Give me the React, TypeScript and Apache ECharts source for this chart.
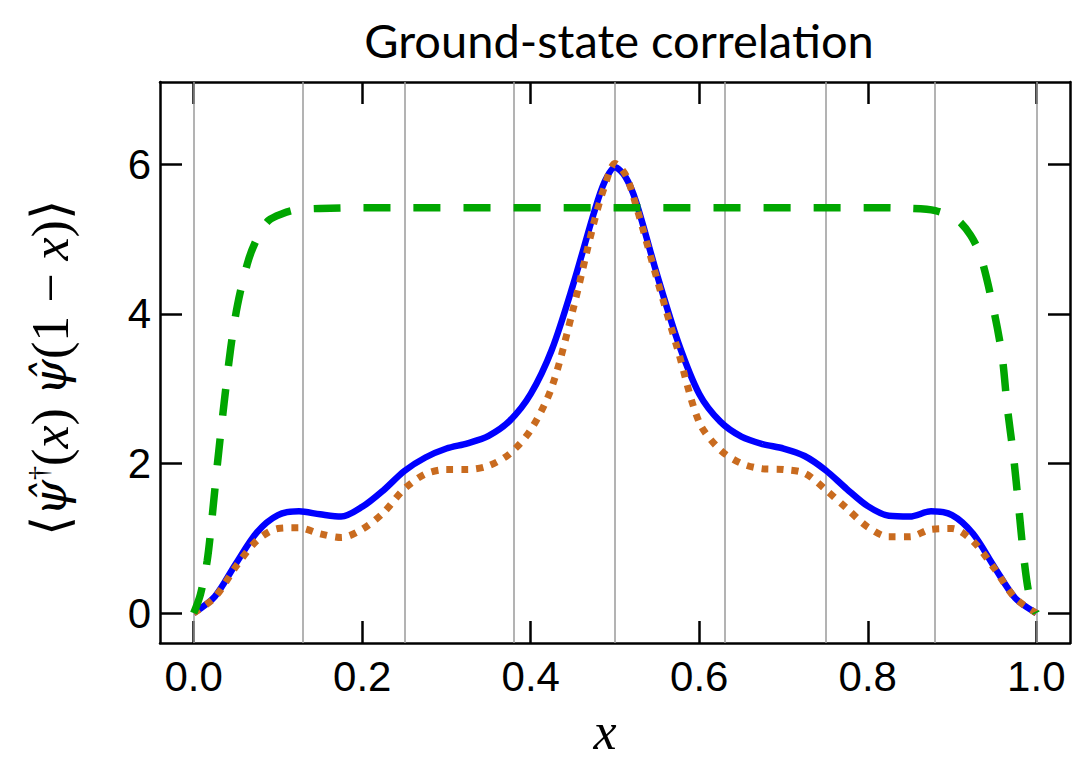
import React, { useEffect, useRef } from "react";
import * as echarts from "echarts";

// ---- data ----
const xs = [
  0, 0.025, 0.05, 0.075, 0.1, 0.125, 0.15, 0.175, 0.2, 0.225, 0.25, 0.275, 0.3, 0.325, 0.35, 0.375,
  0.4, 0.425, 0.45, 0.475, 0.4875, 0.5, 0.5125, 0.525, 0.55, 0.575, 0.6, 0.625, 0.65, 0.675, 0.7,
  0.725, 0.75, 0.775, 0.8, 0.825, 0.85, 0.875, 0.9, 0.925, 0.95, 0.975, 1.0,
];
const blueVals = [
  0, 0.22, 0.66, 1.08, 1.31, 1.36, 1.32, 1.29, 1.42, 1.64, 1.9, 2.08, 2.2, 2.27, 2.37, 2.57,
  2.93, 3.52, 4.38, 5.35, 5.76, 5.96, 5.83, 5.5, 4.52, 3.62, 2.93, 2.56, 2.36, 2.26, 2.2,
  2.1, 1.91, 1.66, 1.43, 1.3, 1.29, 1.36, 1.31, 1.06, 0.62, 0.2, 0,
];
const orangeVals = [
  0, 0.21, 0.62, 0.97, 1.13, 1.14, 1.06, 1.01, 1.12, 1.34, 1.66, 1.86, 1.92, 1.92, 1.97, 2.13,
  2.45, 3.02, 4.05, 5.22, 5.7, 6.01, 5.86, 5.45, 4.46, 3.5, 2.55, 2.18, 2.0, 1.93, 1.92,
  1.87, 1.65, 1.4, 1.15, 1.02, 1.02, 1.12, 1.13, 0.96, 0.6, 0.2, 0,
];
const greenX = [
  0, 0.008, 0.016, 0.022, 0.028, 0.036, 0.044, 0.052, 0.065, 0.077, 0.089, 0.105, 0.121, 0.15,
  0.2, 0.5, 0.8, 0.85, 0.88, 0.906, 0.922, 0.934, 0.9495, 0.9595, 0.9655, 0.973, 0.979, 0.985,
  0.992, 1.0,
];
const greenY = [
  0, 0.25, 0.7, 1.3, 1.98, 2.8, 3.55, 4.12, 4.72, 5.05, 5.25, 5.34, 5.39, 5.41,
  5.42, 5.42, 5.42, 5.41, 5.38, 5.26, 5.05, 4.77, 4.05, 3.43, 2.76, 2.09, 1.43, 0.76,
  0.22, 0,
];
const xTicks = [0, 0.2, 0.4, 0.6, 0.8, 1.0];
const xTickLabels = ["0.0", "0.2", "0.4", "0.6", "0.8", "1.0"];
const yTicks = [0, 2, 4, 6];
const yTickLabels = ["0", "2", "4", "6"];
const gridLinesX = [0, 0.125, 0.25, 0.375, 0.5, 0.625, 0.75, 0.875, 1.0];
const titleText = "Ground-state correlation";

function lookup(vals: number[], labels: string[], v: number) {
  let best = 0;
  for (let i = 1; i < vals.length; i++) {
    if (Math.abs(vals[i] - v) < Math.abs(vals[best] - v)) best = i;
  }
  return labels[best];
}

export default function App() {
  const ref = useRef<HTMLDivElement>(null);
  useEffect(() => {
    const chart = echarts.init(ref.current!, null, { renderer: "svg" });
    const lineStyleAxis = { color: "#000", width: 2.5 };
    const tickStyle = { color: "#000", width: 2.5 };
    const labelFont = {
      fontFamily: "'Liberation Sans', Arial, sans-serif",
      fontSize: 42,
      color: "#000",
    };
    const xCommon = {
      type: "value",
      min: -0.04,
      max: 1.04,
      splitLine: { show: false },
      axisLine: { show: true, onZero: false, lineStyle: lineStyleAxis },
      axisTick: { show: true, inside: true, length: 22, lineStyle: tickStyle, customValues: xTicks },
    };
    const yCommon = {
      type: "value",
      min: -0.4,
      max: 7.1,
      splitLine: { show: false },
      axisLine: { show: true, onZero: false, lineStyle: lineStyleAxis },
      axisTick: { show: true, inside: true, length: 22, lineStyle: tickStyle, customValues: yTicks },
    };
    const serif = "'Liberation Serif', 'Times New Roman', serif";
    const mathSerif = "'DejaVu Serif', 'Liberation Serif', serif";
    chart.setOption({
      animation: false,
      backgroundColor: "#fff",
      grid: { left: 160, right: 17, top: 82, bottom: 115, outerBoundsMode: "none" },
      xAxis: [
        {
          ...xCommon,
          position: "bottom",
          axisLabel: {
            ...labelFont,
            margin: 12,
            customValues: xTicks,
            formatter: (v: number) => lookup(xTicks, xTickLabels, v),
          },
        },
        { ...xCommon, position: "top", axisLabel: { show: false } },
      ],
      yAxis: [
        {
          ...yCommon,
          position: "left",
          axisLabel: {
            ...labelFont,
            margin: 9,
            customValues: yTicks,
            formatter: (v: number) => lookup(yTicks, yTickLabels, v),
          },
        },
        { ...yCommon, position: "right", axisLabel: { show: false } },
      ],
      graphic: [
        {
          type: "text",
          x: 619,
          y: 40,
          style: {
            text: titleText,
            fontFamily: "Lato, 'Open Sans', sans-serif",
            fontSize: 47,
            fill: "#000",
            textAlign: "center",
            textVerticalAlign: "middle",
          },
        },
        {
          type: "text",
          x: 605,
          y: 731,
          style: {
            text: "x",
            fontFamily: serif,
            fontStyle: "italic",
            fontSize: 52,
            fill: "#000",
            textAlign: "center",
            textVerticalAlign: "middle",
          },
        },
        {
          type: "text",
          x: 50,
          y: 368,
          rotation: Math.PI / 2,
          style: {
            text: "{u|⟨}{h|ψ̂}{s|†}{u|(}{i|x}{u|) }{h|ψ̂}{u|(1 − }{i|x}{u|)⟩}",
            textAlign: "center",
            textVerticalAlign: "middle",
            fill: "#000",
            rich: {
              u: { fontFamily: serif, fontSize: 52, fill: "#000" },
              i: { fontFamily: serif, fontStyle: "italic", fontSize: 52, fill: "#000" },
              h: { fontFamily: mathSerif, fontStyle: "italic", fontSize: 46, fill: "#000" },
              s: { fontFamily: serif, fontSize: 28, fill: "#000", verticalAlign: "top" },
            },
          },
        },
      ],
      series: [
        {
          type: "line",
          name: "blue",
          data: xs.map((x, i) => [x, blueVals[i]]),
          showSymbol: false,
          symbol: "none",
          smooth: 0.3,
          z: 2,
          lineStyle: { color: "#0000ff", width: 6.5, type: "solid" },
          markLine: {
            silent: true,
            z: 1,
            symbol: ["none", "none"],
            label: { show: false },
            lineStyle: { color: "#9a9a9a", width: 1.5, type: "solid" },
            emphasis: { disabled: true },
            data: gridLinesX.map((v) => ({ xAxis: v })),
          },
        },
        {
          type: "line",
          name: "orange",
          data: xs.map((x, i) => [x, orangeVals[i]]),
          showSymbol: false,
          symbol: "none",
          smooth: 0.3,
          z: 3,
          lineStyle: { color: "#c96b1f", width: 7, type: [7, 8], cap: "butt" },
        },
        {
          type: "line",
          name: "green",
          data: greenX.map((x, i) => [x, greenY[i]]),
          showSymbol: false,
          symbol: "none",
          smooth: 0.3,
          z: 4,
          lineStyle: { color: "#00a600", width: 7.5, type: [27, 23], cap: "butt" },
        },
      ],
    });
    return () => chart.dispose();
  }, []);
  return (
    <div
      ref={ref}
      style={{ position: "fixed", left: 0, top: 0, width: 1087, height: 758, background: "#fff" }}
    />
  );
}
